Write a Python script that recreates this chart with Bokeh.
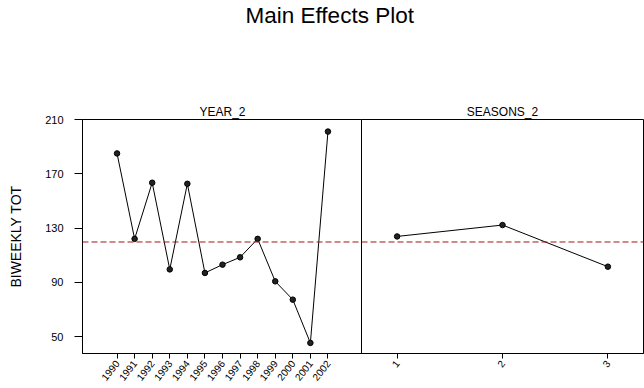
import math
from bokeh.plotting import figure
from bokeh.layouts import column, row
from bokeh.models import Range1d, FixedTicker, Span
from bokeh.embed import file_html
from bokeh.resources import INLINE
from bokeh.core.validation import silence
from bokeh.core.validation.warnings import MISSING_RENDERERS

silence(MISSING_RENDERERS, True)

# ---- data ----
years = [1990, 1991, 1992, 1993, 1994, 1995, 1996, 1997, 1998, 1999, 2000, 2001, 2002]
year_means = [185.0, 122.0, 163.4, 99.5, 162.6, 96.9, 103.0, 108.4, 122.0, 90.7, 77.2, 45.3, 201.1]
seasons = [1, 2, 3]
season_means = [123.8, 132.2, 101.5]
grand_mean = 119.7
y_ticks = [50, 90, 130, 170, 210]

FONT = "Liberation Sans"
LINE_RED = "#a31515"

# ---- main title figure ----
top = figure(width=644, height=40, output_backend="svg", toolbar_location=None,
             x_axis_location=None, y_axis_location=None,
             min_border_left=0, min_border_right=0, min_border_top=0, min_border_bottom=0)
top.outline_line_color = None
top.grid.visible = False
top.title.text = "Main Effects Plot"
top.title.align = "left"
top.title.text_font = FONT
top.title.text_font_size = "22.5px"
top.title.text_font_style = "normal"
top.title.text_color = "black"
top.title.offset = 245
top.title.standoff = 0

yr = Range1d(37.5, 210)


def style(p, title):
    p.title.text = title
    p.title.align = "center"
    p.title.text_font = FONT
    p.title.text_font_size = "12px"
    p.title.text_font_style = "normal"
    p.title.text_color = "black"
    p.title.standoff = 1
    p.outline_line_color = "black"
    p.outline_line_width = 1
    p.grid.visible = False
    p.background_fill_color = "white"
    p.border_fill_color = None
    for ax in p.xaxis:
        ax.major_tick_out = 5
        ax.major_tick_in = 0
        ax.minor_tick_line_color = None
        ax.axis_line_color = "black"
        ax.major_tick_line_color = "black"
        ax.major_label_text_font = FONT
        ax.major_label_text_font_size = "10px"
        ax.major_label_text_color = "black"
        ax.major_label_orientation = 0.9
        ax.major_label_standoff = 3


# ---- YEAR panel ----
p1 = figure(width=362, height=348, x_range=Range1d(1990 - 1.965, 2002 + 1.965), y_range=yr,
            output_backend="svg", toolbar_location=None,
            min_border_left=82, min_border_right=0, min_border_top=79, min_border_bottom=35)
style(p1, "YEAR_2")
p1.xaxis.ticker = FixedTicker(ticks=years)
p1.yaxis.ticker = FixedTicker(ticks=y_ticks)
p1.yaxis.major_tick_out = 8
p1.yaxis.major_tick_in = 0
p1.yaxis.minor_tick_line_color = None
p1.yaxis.major_label_text_font = FONT
p1.yaxis.major_label_text_font_size = "11px"
p1.yaxis.major_label_text_color = "black"
p1.yaxis.major_label_standoff = 11
p1.yaxis.axis_label = "BIWEEKLY TOT"
p1.yaxis.axis_label_text_font = FONT
p1.yaxis.axis_label_text_font_size = "14px"
p1.yaxis.axis_label_text_font_style = "normal"
p1.yaxis.axis_label_text_color = "black"
p1.yaxis.axis_label_standoff = 18
p1.add_layout(Span(location=grand_mean, dimension="width", line_color=LINE_RED,
                   line_dash="6 3", line_width=1))
p1.line(years, year_means, line_color="black", line_width=1)
p1.scatter(years, year_means, size=5.5, fill_color="#222222", line_color="black")

# ---- SEASONS panel ----
p2 = figure(width=283, height=348, x_range=Range1d(0.662, 3.338), y_range=yr,
            output_backend="svg", toolbar_location=None, y_axis_location=None,
            min_border_left=0, min_border_right=1, min_border_top=79, min_border_bottom=35,
            margin=(0, 0, 0, -1))
style(p2, "SEASONS_2")
p2.xaxis.ticker = FixedTicker(ticks=seasons)
p2.add_layout(Span(location=grand_mean, dimension="width", line_color=LINE_RED,
                   line_dash="6 3", line_width=1))
p2.line(seasons, season_means, line_color="black", line_width=1)
p2.scatter(seasons, season_means, size=5.5, fill_color="#222222", line_color="black")

layout = column(top, row(p1, p2))
open("out.html", "w").write(file_html(layout, INLINE))
